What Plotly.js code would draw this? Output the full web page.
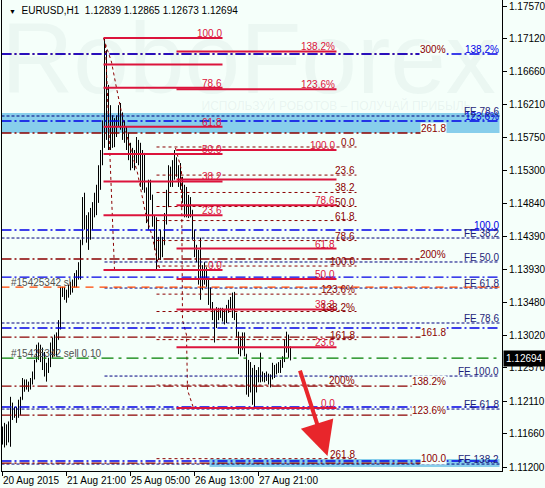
<!DOCTYPE html>
<html><head><meta charset="utf-8">
<script src="https://cdn.plot.ly/plotly-3.0.1.min.js"></script>
<style>html,body{margin:0;padding:0;background:#F5FFFA}</style>
</head><body><div id="chart" style="width:545px;height:488px"></div>
<script>
// ---- EURUSD H1 bars (bar number 0 = 20 Aug 2015 13:00) ----
const barOpen = [1.1172,1.1158,1.1172,1.1161,1.1179,1.1206,1.1196,1.1199,1.1192,1.1206,
1.1213,1.1234,1.1230,1.1234,1.1230,1.1241,1.1248,1.1265,1.1282,1.1276,
1.1282,1.1261,1.1254,1.1257,1.1268,1.1282,1.1293,1.1282,1.1296,1.1317,
1.1362,1.1365,1.1358,1.1362,1.1368,1.1372,1.1374,1.1381,1.1386,1.1399,
1.1427,1.1482,1.1461,1.1441,1.1464,1.1455,1.1478,1.1492,1.1503,1.1530,
1.1551,1.1586,1.1682,1.1599,1.1613,1.1579,1.1593,1.1586,1.1599,1.1610,
1.1593,1.1586,1.1575,1.1565,1.1558,1.1544,1.1551,1.1547,1.1565,1.1551,
1.1517,1.1544,1.1506,1.1468,1.1503,1.1496,1.1461,1.1427,1.1434,1.1420,
1.1434,1.1427,1.1461,1.1496,1.1524,1.1517,1.1537,1.1544,1.1530,1.1519,
1.1510,1.1496,1.1482,1.1475,1.1489,1.1475,1.1441,1.1420,1.1413,1.1392,
1.1365,1.1386,1.1379,1.1372,1.1351,1.1344,1.1330,1.1317,1.1330,1.1334,
1.1330,1.1326,1.1323,1.1337,1.1348,1.1344,1.1351,1.1330,1.1303,1.1289,
1.1282,1.1296,1.1276,1.1227,1.1254,1.1234,1.1220,1.1248,1.1241,1.1252,
1.1248,1.1243,1.1248,1.1245,1.1241,1.1243,1.1257,1.1252,1.1257,1.1261,
1.1265,1.1268,1.1289,1.1296,1.12839];
const barHigh = [1.1176,1.1181,1.1179,1.1183,1.1217,1.1209,1.1203,1.1203,1.1213,1.1217,
1.1243,1.1241,1.1241,1.1238,1.1243,1.1252,1.1268,1.1289,1.1292,1.1289,
1.1285,1.1279,1.1264,1.1271,1.1292,1.1299,1.1303,1.1306,1.1323,1.1369,
1.1369,1.1369,1.1365,1.1372,1.1376,1.1379,1.1388,1.1392,1.1403,1.1434,
1.1493,1.1499,1.1468,1.1472,1.1478,1.1486,1.1499,1.1510,1.1537,1.1558,
1.1599,1.1713,1.1696,1.1648,1.1620,1.1606,1.1602,1.1606,1.1620,1.1623,
1.1610,1.1599,1.1590,1.1582,1.1568,1.1561,1.1558,1.1576,1.1572,1.1568,
1.1558,1.1554,1.1506,1.1517,1.1517,1.1496,1.1468,1.1465,1.1438,1.1448,
1.1438,1.1471,1.1503,1.1537,1.1535,1.1544,1.1558,1.1548,1.1537,1.1540,
1.1521,1.1510,1.1507,1.1496,1.1493,1.1475,1.1448,1.1427,1.1420,1.1437,
1.1399,1.1403,1.1396,1.1379,1.1368,1.1348,1.1337,1.1341,1.1340,1.1340,
1.1340,1.1337,1.1344,1.1351,1.1355,1.1361,1.1362,1.1333,1.1307,1.1300,
1.1306,1.1306,1.1276,1.1268,1.1265,1.1257,1.1261,1.1254,1.1258,1.1278,
1.1252,1.1250,1.1252,1.1249,1.1248,1.1264,1.1261,1.1263,1.1265,1.1268,
1.1273,1.1296,1.1307,1.1303,1.12865];
const barLow = [1.1151,1.1147,1.1150,1.1154,1.1148,1.1185,1.1188,1.1181,1.1188,1.1192,
1.1213,1.1224,1.1227,1.1224,1.1227,1.1234,1.1241,1.1265,1.1268,1.1265,
1.1254,1.1245,1.1238,1.1250,1.1258,1.1271,1.1273,1.1273,1.1296,1.1310,
1.1355,1.1351,1.1347,1.1354,1.1358,1.1361,1.1368,1.1368,1.1379,1.1379,
1.1427,1.1448,1.1430,1.1420,1.1434,1.1448,1.1465,1.1468,1.1485,1.1503,
1.1537,1.1561,1.1572,1.1558,1.1558,1.1561,1.1562,1.1576,1.1590,1.1586,
1.1572,1.1568,1.1558,1.1544,1.1530,1.1533,1.1530,1.1540,1.1537,1.1507,
1.1503,1.1499,1.1457,1.1448,1.1489,1.1452,1.1420,1.1392,1.1406,1.1406,
1.1410,1.1427,1.1455,1.1479,1.1507,1.1507,1.1517,1.1521,1.1507,1.1503,
1.1485,1.1465,1.1465,1.1464,1.1465,1.1434,1.1410,1.1403,1.1372,1.1351,
1.1365,1.1372,1.1369,1.1344,1.1337,1.1323,1.1292,1.1312,1.1323,1.1326,
1.1321,1.1317,1.1319,1.1333,1.1337,1.1326,1.1323,1.1299,1.1276,1.1273,
1.1282,1.1273,1.1220,1.1217,1.1223,1.1206,1.1202,1.1223,1.1237,1.1237,
1.1238,1.1237,1.1239,1.1234,1.1230,1.1241,1.1243,1.1248,1.1250,1.1250,
1.1257,1.1265,1.1278,1.1271,1.12673];
const barClose = [1.1158,1.1172,1.1161,1.1179,1.1206,1.1196,1.1199,1.1192,1.1206,1.1213,
1.1234,1.1230,1.1234,1.1230,1.1241,1.1248,1.1265,1.1282,1.1276,1.1282,
1.1261,1.1254,1.1257,1.1268,1.1282,1.1293,1.1282,1.1296,1.1317,1.1362,
1.1365,1.1358,1.1362,1.1368,1.1372,1.1374,1.1381,1.1386,1.1399,1.1427,
1.1482,1.1461,1.1441,1.1464,1.1455,1.1478,1.1492,1.1503,1.1530,1.1551,
1.1586,1.1682,1.1599,1.1613,1.1579,1.1593,1.1586,1.1599,1.1610,1.1593,
1.1586,1.1575,1.1565,1.1558,1.1544,1.1551,1.1547,1.1565,1.1551,1.1517,
1.1544,1.1506,1.1468,1.1503,1.1496,1.1461,1.1427,1.1434,1.1420,1.1434,
1.1427,1.1461,1.1496,1.1524,1.1517,1.1537,1.1544,1.1530,1.1519,1.1510,
1.1496,1.1482,1.1475,1.1489,1.1475,1.1441,1.1420,1.1413,1.1392,1.1365,
1.1386,1.1379,1.1372,1.1351,1.1344,1.1330,1.1317,1.1330,1.1334,1.1330,
1.1326,1.1323,1.1337,1.1348,1.1344,1.1351,1.1330,1.1303,1.1289,1.1282,
1.1296,1.1276,1.1227,1.1254,1.1234,1.1220,1.1248,1.1241,1.1252,1.1248,
1.1243,1.1248,1.1245,1.1241,1.1243,1.1257,1.1252,1.1257,1.1261,1.1265,
1.1268,1.1289,1.1296,1.1284,1.12694];

// ---- axes ----
const timeTickBars = [0, 32, 64, 96, 128];
const timeTickLabels = ["20 Aug 2015", "21 Aug 21:00", "25 Aug 05:00", "26 Aug 13:00", "27 Aug 21:00"];
const priceTicks = [1.1757, 1.1712, 1.1666, 1.1621, 1.1575, 1.1530, 1.1484, 1.1439, 1.1393, 1.1348, 1.1302, 1.1257, 1.1211, 1.1166, 1.1120];
const priceTickLabels = ["1.17570","1.17120","1.16660","1.16210","1.15750","1.15300","1.14840","1.14390","1.13930","1.13480","1.13020","1.12570","1.12110","1.11660","1.11200"];
const lastPrice = 1.12694;
const headerText = "EURUSD,H1\u00a0 1.12839 1.12865 1.12673 1.12694";

// ---- Fibonacci retracement 1 (crimson) ----
const fib1Bars = [50.5, 110];
const fib1Anchors = [1.17128, 1.13922];       // 100% , 0%
const fib1Levels = [100, 88.6, 78.6, 61.8, 50, 38.2, 23.6, 0];
const fib1Labels = ["100.0", "", "78.6", "61.8", "50.0", "38.2", "23.6", "0.0"];
// ---- Fibonacci retracement 2 (crimson) ----
const fib2Bars = [87, 167];
const fib2Anchors = [1.15580, 1.12015];
const fib2Levels = [138.2, 123.6, 100, 88.6, 78.6, 61.8, 50, 38.2, 23.6, 0];
const fib2Labels = ["138.2%", "123.6%", "100.0", "", "78.6", "61.8", "50.0", "38.2", "23.6", "0.0"];
// ---- Fibonacci retracement 3 (dark red dotted) ----
const fib3Bars = [77, 177];
const fib3Anchors = [1.13977, 1.15622];       // 100% , 0%
const fib3Levels = [0, 23.6, 38.2, 50, 61.8, 78.6, 100, 123.6, 138.2, 161.8, 200, 261.8];
const fib3Labels = ["0.0", "23.6", "38.2", "50.0", "61.8", "78.6", "100.0", "123.6%", "138.2%", "161.8", "200%", "261.8"];
// ---- expansion levels (dark red dash-dot) ----
const expBars = [-0.5, 222];
const expPrices = [1.16907, 1.15815, 1.14074, 1.12996, 1.12319, 1.11918, 1.11255];
const expLabels = ["300%", "261.8", "200%", "161.8", "138.2%", "123.6%", "100.0"];
// ---- blue dash-dot levels ----
const blueBars = [-0.5, 248.5];
const bluePrices = [1.16907, 1.15981, 1.14475, 1.13825, 1.13121, 1.12029, 1.11283];
const blueLabels = ["138.2%", "123.6%", "100.0", "", "", "", ""];
// ---- FE levels (navy dashed) ----
const feFullBars = [-0.5, 248.5];
const feFullPrices = [1.16050, 1.14364, 1.13190, 1.12001, 1.11241];
const feFullLabels = ["FE 78.6", "FE 38.2", "FE 78.6", "FE 61.8", "FE 138.2"];
const fePartBars = [51, 248.5];
const fePartPrices = [1.14033, 1.13673, 1.12457];
const fePartLabels = ["FE 50.0", "FE 61.8", "FE 100.0"];
// ---- order lines ----
const sellPrice = 1.12706, sellLabel = "#15425342 sell 0.10";
const slPrice = 1.13687, slLabel = "#15425342 sl";
// ---- target zones ----
const zoneBars = [[-0.5, 248.5], [103.5, 248.5]];
const zonePrices = [[1.15815, 1.16092], [1.11200, 1.11310]];
// ---- dotted trend lines ----
const trend1Bars = [50.5, 54.5, 57, 59, 61, 67.5, 72, 75, 77, 78.5];
const trend1Prices = [1.17128, 1.16796, 1.16437, 1.16174, 1.15898, 1.15263, 1.14641, 1.14378, 1.14102, 1.13950];
const trend2Bars = [51.5, 56];
const trend2Prices = [1.17031, 1.13922];
const trend3Bars = [86.5, 89.5, 90, 92, 92.5, 95, 95.5];
const trend3Prices = [1.15608, 1.15304, 1.13231, 1.13024, 1.12264, 1.12057, 1.12015];
// ---- forecast arrow ----
const arrowBars = [148.5, 162.5];
const arrowPrices = [1.12554, 1.11352];

// ================= build =================
const FONT = "Liberation Sans, Arial, sans-serif";
const BG = "#F5FFFA";
const CRIMSON = "#DC143C", DARKRED = "#8B0000", BLUE = "#0000E6", NAVY = "#000080";

function fibPrices(anch, levels) { return levels.map(L => anch[1] + (L / 100) * (anch[0] - anch[1])); }
function hl(prices, bars) {
  const x = [], y = [];
  prices.forEach(p => { x.push(bars[0], bars[1], null); y.push(p, p, null); });
  return {x, y};
}
function lineTrace(prices, bars, color, width, dash) {
  const d = hl(prices, bars);
  return {type: "scatter", mode: "lines", x: d.x, y: d.y, hoverinfo: "skip",
          line: {color, width, dash}, showlegend: false};
}
const annotations = [];
function labels(prices, texts, endBar, color, bg) {
  prices.forEach((p, k) => {
    if (!texts[k]) return;
    annotations.push({x: endBar, y: p, xref: "x", yref: "y", text: texts[k], showarrow: false,
      xanchor: "right", yanchor: "bottom", yshift: -2, borderpad: 0,
      bgcolor: bg || "rgba(0,0,0,0)", font: {family: FONT, size: 10, color}});
  });
}

const f1 = fibPrices(fib1Anchors, fib1Levels);
const f2 = fibPrices(fib2Anchors, fib2Levels);
const f3 = fibPrices([fib3Anchors[0], fib3Anchors[1]], fib3Levels);

const barIdx = barOpen.map((_, i) => i);
const traces = [
  {type: "scatter", mode: "text", x: [123], y: [1.16713], text: ["RoboForex"], hoverinfo: "skip",
   textfont: {family: FONT, size: 100, color: "rgba(150,180,180,0.10)"}, showlegend: false},
  {type: "scatter", mode: "text", x: [167], y: [1.16174], text: ["ИСПОЛЬЗУЙ РОБОТОВ – ПОЛУЧАЙ ПРИБЫЛЬ"], hoverinfo: "skip",
   textfont: {family: FONT, size: 12, color: "rgba(150,180,180,0.14)"}, showlegend: false},
  {type: "ohlc", x: barIdx, open: barOpen, high: barHigh, low: barLow, close: barClose,
   increasing: {line: {color: "#000000", width: 1}}, decreasing: {line: {color: "#000000", width: 1}},
   tickwidth: 0.25, hoverinfo: "skip", showlegend: false},
  lineTrace(f3, fib3Bars, DARKRED, 1, "3px,3px"),
  {type: "scatter", mode: "lines", x: trend1Bars, y: trend1Prices, line: {color: DARKRED, width: 1, dash: "3px,3px"}, hoverinfo: "skip", showlegend: false},
  {type: "scatter", mode: "lines", x: trend2Bars, y: trend2Prices, line: {color: DARKRED, width: 1, dash: "3px,3px"}, hoverinfo: "skip", showlegend: false},
  {type: "scatter", mode: "lines", x: trend3Bars, y: trend3Prices, line: {color: DARKRED, width: 1, dash: "3px,3px"}, hoverinfo: "skip", showlegend: false},
  lineTrace(feFullPrices, feFullBars, NAVY, 1, "3px,2px"),
  lineTrace(fePartPrices, fePartBars, NAVY, 1, "3px,2px"),
  lineTrace(expPrices, expBars, DARKRED, 1.3, "10px,3px,2px,3px"),
  lineTrace(bluePrices, blueBars, BLUE, 1.3, "10px,3px,2px,3px"),
  lineTrace([slPrice], [-0.5, 248.5], "#FF4500", 1.3, "8px,6px"),
  lineTrace([sellPrice], [-0.5, 248.5], "#008000", 1.3, "12px,5px,3px,5px"),
  lineTrace(f2, fib2Bars, CRIMSON, 2, "solid"),
  lineTrace(f1, fib1Bars, CRIMSON, 2, "solid")
];

labels(f1, fib1Labels, fib1Bars[1], CRIMSON);
labels(f2, fib2Labels, fib2Bars[1] - 0.5, CRIMSON);
labels(f3, fib3Labels, fib3Bars[1] - 0.5, DARKRED);
labels(expPrices, expLabels, expBars[1], DARKRED, BG);
labels(bluePrices, blueLabels, blueBars[1], BLUE);
labels(feFullPrices, feFullLabels, feFullBars[1], "#1E1E78");
labels(fePartPrices, fePartLabels, fePartBars[1], "#1E1E78");

annotations.push({x: 3.5, y: slPrice, xref: "x", yref: "y", text: slLabel, showarrow: false,
  xanchor: "left", yanchor: "bottom", yshift: -2, borderpad: 0, font: {family: FONT, size: 10, color: "#505050"}});
annotations.push({x: 3.5, y: sellPrice, xref: "x", yref: "y", text: sellLabel, showarrow: false,
  xanchor: "left", yanchor: "bottom", yshift: -2, borderpad: 0, font: {family: FONT, size: 10, color: "#505050"}});

// time axis labels (left aligned at their tick)
timeTickBars.forEach((b, k) => annotations.push({x: b, y: 0, xref: "x", yref: "paper", text: timeTickLabels[k],
  showarrow: false, xanchor: "left", yanchor: "top", xshift: -1, yshift: -3, borderpad: 0,
  font: {family: FONT, size: 10, color: "#000"}}));

// header (one text: small triangle + symbol line)
annotations.push({x: 0.01, y: 0.977, xref: "paper", yref: "paper",
  text: '<span style="font-size:7px">▼</span>\u00a0\u00a0' + headerText, showarrow: false,
  xanchor: "left", yanchor: "middle", font: {family: FONT, size: 10, color: "#000"}});

// last price box
annotations.push({x: 1, y: lastPrice, xref: "paper", yref: "y", text: "1.12694", showarrow: false,
  xanchor: "left", yanchor: "middle", xshift: 1, bgcolor: "#000", borderpad: 2,
  font: {family: FONT, size: 10, color: "#fff"}});

// forecast arrow
annotations.push({x: arrowBars[1], y: arrowPrices[1], ax: arrowBars[0], ay: arrowPrices[0],
  xref: "x", yref: "y", axref: "x", ayref: "y", text: "", showarrow: true,
  arrowhead: 2, arrowsize: 1.7, arrowwidth: 4, arrowcolor: "#E8262B"});

const shapes = zoneBars.map((b, k) => ({type: "rect", xref: "x", yref: "y", layer: "below",
  x0: b[0], x1: b[1], y0: zonePrices[k][0], y1: zonePrices[k][1],
  fillcolor: "#87CEEB", line: {width: 0}}));

const layout = {
  width: 545, height: 488,
  margin: {l: 2, r: 43, t: 0, b: 17, pad: 0},
  paper_bgcolor: BG, plot_bgcolor: BG,
  showlegend: false, hovermode: false, dragmode: false,
  xaxis: {range: [-0.25, 249.75], showgrid: false, zeroline: false, showline: true, linecolor: "#000", linewidth: 1,
          ticks: "outside", ticklen: 4, tickcolor: "#000", tickvals: timeTickBars, showticklabels: false,
          rangeslider: {visible: false}, fixedrange: true},
  yaxis: {range: [1.11145, 1.17653], side: "right", showgrid: false, zeroline: false, showline: true, mirror: true,
          linecolor: "#000", linewidth: 1, ticks: "outside", ticklen: 4, tickcolor: "#000",
          tickvals: priceTicks, ticktext: priceTickLabels, tickfont: {family: FONT, size: 10, color: "#000"},
          fixedrange: true},
  shapes, annotations
};
Plotly.newPlot("chart", traces, layout, {displayModeBar: false, staticPlot: true});
</script></body></html>
